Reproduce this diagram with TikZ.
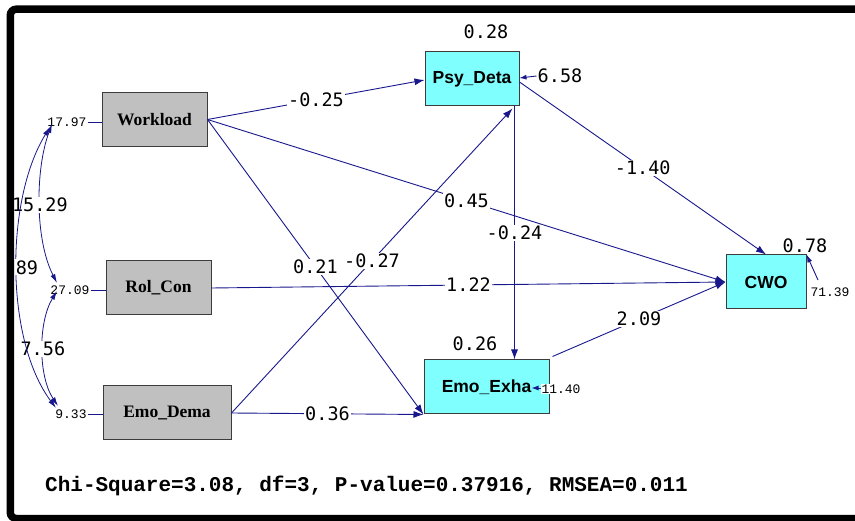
\documentclass[tikz,border=0pt]{standalone}
\usepackage{fontspec}
\setmainfont{Liberation Serif}
\newfontfamily\lblfont{DejaVu Sans Mono}
\newfontfamily\courfont{Liberation Mono}
\newfontfamily\boxsans{Liberation Sans}
\usetikzlibrary{arrows.meta,calc}
\definecolor{navy}{RGB}{24,24,140}
\definecolor{boxgray}{RGB}{192,192,192}
\definecolor{boxcyan}{RGB}{128,255,255}
\definecolor{edgegray}{RGB}{60,60,60}
\tikzset{
  obs/.style={draw=edgegray, line width=1pt, fill=boxgray, minimum width=#1, minimum height=54pt, inner sep=0pt,
    font=\bfseries\fontsize{17.5}{19}\selectfont},
  lat/.style={draw=edgegray, line width=1pt, fill=boxcyan, minimum width=#1, minimum height=54pt, inner sep=0pt,
    font=\boxsans\bfseries\fontsize{17.5}{19}\selectfont},
  path/.style={draw=navy, line width=0.9pt, -{Latex[length=10pt,width=7pt]}},
  cov/.style={draw=navy, line width=0.8pt, {Latex[length=9pt,width=5pt]}-{Latex[length=9pt,width=5pt]}},
  plain/.style={draw=navy, line width=0.9pt},
  elab/.style={fill=white, inner sep=1pt, text=black, font=\lblfont\fontsize{18.5}{20}\selectfont},
  slab/.style={inner sep=1pt, text=black, font=\courfont\fontsize{13}{14}\selectfont},
  rlab/.style={inner sep=1pt, text=black, font=\lblfont\fontsize{18.5}{20}\selectfont}
}
\begin{document}
\begin{tikzpicture}[x=1pt,y=-1pt]
\useasboundingbox (0,0) rectangle (855,521);
\clip (0,0) rectangle (855,521);
\fill[white] (0,0) rectangle (855,521);

% boxes
\node[obs=105pt] (wl) at (154.5,119.5) {Workload};
\node[obs=105pt] (rc) at (158.5,288) {Rol\_Con};
\node[obs=128pt] (ed) at (167,413) {Emo\_Dema};
\node[lat=94pt]  (pd) at (472,79) {Psy\_Deta};
\node[lat=125pt] (ee) at (486.5,387) {Emo\_Exha};
\node[lat=80pt]  (cwo) at (766,282) {CWO};

% variances of exogenous
\node[slab] (v1) at (67,122) {17.97};
\node[slab] (v2) at (70,290) {27.09};
\node[slab] (v3) at (71,414) {9.33};
\draw[plain] (v1.east) -- (wl.west |- v1.east);
\draw[plain] (v2.east) -- (rc.west |- v2.east);
\draw[plain] (v3.east) -- (ed.west |- v3.east);

% covariance curves
\coordinate (c1a) at (52,124);
\coordinate (c1b) at (50,127);
\coordinate (c2a) at (57,283);
\coordinate (c2b) at (57,291);
\coordinate (c3a) at (58,406);
\coordinate (c3b) at (56,408);
\draw[cov] (c1a) .. controls (35,170) and (35,240) .. (c2a)
  node[elab, pos=0.5] {15.29};
\draw[cov] (c2b) .. controls (38,322) and (38,376) .. (c3a)
  node[elab, pos=0.5] {7.56};
\draw[cov] (c1b) .. controls (5,200) and (5,340) .. (c3b)
  node[elab, pos=0.5, xshift=10pt, yshift=2pt] {89};

% structural paths
\draw[path] (wl.east) -- node[elab] {-0.25} ([yshift=-1pt]pd.west);
\draw[path] (wl.east) -- node[elab] {0.45} (cwo.west);
\draw[path] (wl.east) -- node[elab] {0.21} (ee.south west);
\draw[path] (rc.east) -- node[elab] {1.22} (cwo.west);
\draw[path] (ed.east) -- node[elab] {-0.27} ([xshift=-7pt,yshift=-2pt]pd.south east);
\draw[path] (ed.east) -- node[elab] {0.36} (ee.south west);
\draw[path] ([xshift=-5pt]pd.south east) -- node[elab] {-0.24} ([xshift=-5pt]pd.south east |- ee.north);
\draw[path] ([yshift=-3pt]pd.east) -- node[elab] {-1.40} (cwo.north);
\draw[path] ([xshift=3pt,yshift=3pt]ee.north east) -- node[elab] {2.09} (cwo.west);

% R-squared
\node[rlab] (r1) at (486,32) {0.28};
\node[rlab] (r2) at (475,344) {0.26};
\node[rlab] (r3) at (805,246) {0.78};

% error variances
\node[rlab] (e1) at (560,76) {6.58};
\draw[path, -{Latex[length=7pt,width=5pt]}] (e1.west) -- ([yshift=1pt]pd.east);
\draw[path, -{Latex[length=7pt,width=5pt]}] (541,388) -- ([xshift=-18pt,yshift=-1pt]ee.east);
\node[slab, fill=white] (e2) at (561,389) {11.40};
\draw[path, -{Latex[length=8pt,width=5pt]}] (818,280) -- (cwo.north east);
\node[slab] (e3) at (830,292) {71.39};

% fit statistics
\node[inner sep=0pt, font=\courfont\bfseries\fontsize{21}{23}\selectfont, anchor=west] (fit) at (45,486)
  {Chi-Square=3.08, df=3, P-value=0.37916, RMSEA=0.011};

% frame
\draw[black, line width=7.5pt, rounded corners=6pt] (900,9.2) -- (10.3,9.2) -- (10.3,518.5) -- (900,518.5);
\end{tikzpicture}
\end{document}
